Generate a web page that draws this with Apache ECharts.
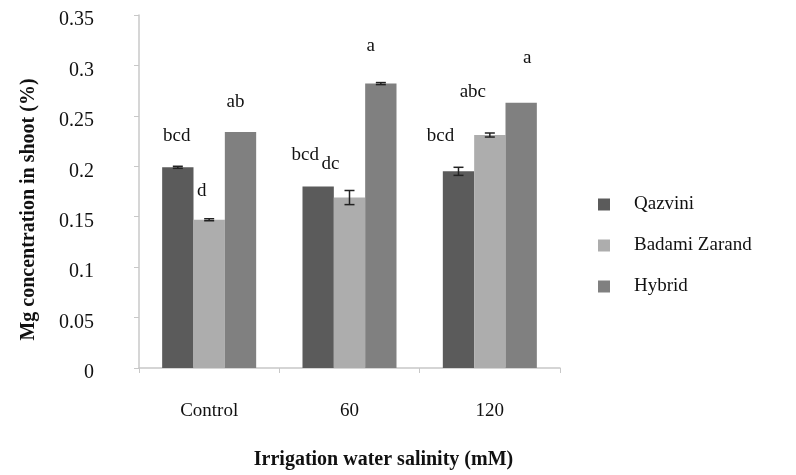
<!DOCTYPE html>
<html>
<head>
<meta charset="utf-8">
<script src="https://cdn.jsdelivr.net/npm/echarts@6/dist/echarts.min.js"></script>
<style>html,body{margin:0;padding:0;background:#fff}#c{width:796px;height:475px}</style>
</head>
<body>
<div id="c"></div>
<script>
const categories = ['Control', '60', '120'];
const seriesNames = ['Qazvini', 'Badami Zarand', 'Hybrid'];
const qazvini = [0.199, 0.180, 0.195];
const badami = [0.147, 0.169, 0.231];
const hybrid = [0.234, 0.282, 0.263];
const qazviniErr = [0.001, 0.000, 0.004];
const badamiErr = [0.001, 0.007, 0.002];
const hybridErr = [0.000, 0.001, 0.000];
const qazviniLetters = ['bcd', 'bcd', 'bcd'];
const badamiLetters = ['d', 'dc', 'abc'];
const hybridLetters = ['ab', 'a', 'a'];
const yTicks = [0, 0.05, 0.1, 0.15, 0.2, 0.25, 0.3, 0.35];

// label placement tweaks (px), separate from data
const letterShift = [
  [[-1, -21], [-13, -21], [-18, -25]],
  [[-7.5, -19], [-19, -24], [-17, -33]],
  [[-5, -20], [-10, -28], [6, -35]]
];
const colors = ['#5b5b5b', '#adadad', '#808080'];
const values = [qazvini, badami, hybrid];
const errs = [qazviniErr, badamiErr, hybridErr];
const letters = [qazviniLetters, badamiLetters, hybridLetters];
const FONT = '"Liberation Serif", "Times New Roman", serif';
const GAP = 0.33;

const chart = echarts.init(document.getElementById('c'));
const series = [];
values.forEach((vals, si) => {
  series.push({
    name: seriesNames[si],
    type: 'bar',
    barGap: '0%',
    barCategoryGap: (GAP * 100) + '%',
    itemStyle: { color: colors[si] },
    data: vals.map((v, i) => ({
      value: v,
      label: {
        show: true, position: 'top', distance: 0,
        formatter: letters[si][i], offset: letterShift[si][i],
        fontFamily: FONT, fontSize: 19, lineHeight: 20, color: '#111'
      }
    })),
    z: 2
  });
});
series.push({
  type: 'custom', z: 5, silent: true,
  data: categories.flatMap((c, i) => [0, 1, 2].map(si => [i, values[si][i], errs[si][i], si])),
  renderItem: function (params, api) {
    const ci = api.value(0), v = api.value(1), e = api.value(2), si = api.value(3);
    if (!e) return null;
    const bandW = api.size([1, 0])[0];
    const bw = bandW * (1 - GAP) / 3;
    const center = api.coord([ci, v]);
    const x = center[0] + (si - 1) * bw;
    const top = api.coord([ci, v + e])[1];
    const bot = api.coord([ci, v - e])[1];
    const cap = 5;
    const st = { stroke: '#222', lineWidth: 1.5 };
    return { type: 'group', children: [
      { type: 'line', shape: { x1: x, y1: top, x2: x, y2: bot }, style: st },
      { type: 'line', shape: { x1: x - cap, y1: top, x2: x + cap, y2: top }, style: st },
      { type: 'line', shape: { x1: x - cap, y1: bot, x2: x + cap, y2: bot }, style: st }
    ] };
  }
});

chart.setOption({
  animation: false,
  backgroundColor: '#fff',
  textStyle: { fontFamily: FONT },
  grid: { left: 139, right: 236, top: 15, bottom: 102, containLabel: false },
  legend: {
    orient: 'vertical', left: 593, top: 190,
    itemWidth: 12, itemHeight: 12, itemGap: 22, icon: 'rect', data: seriesNames,
    textStyle: { fontFamily: FONT, fontSize: 19, color: '#111', padding: [0, 0, 0, 19] }
  },
  xAxis: {
    type: 'category', data: categories,
    axisLine: { lineStyle: { color: '#c8c8c8', width: 1.5 } },
    axisTick: { show: true, length: 5, lineStyle: { color: '#c8c8c8' } },
    axisLabel: { fontFamily: FONT, fontSize: 19, color: '#111', margin: 34 },
    name: 'Irrigation water salinity (mM)', nameLocation: 'middle', nameGap: 82,
    nameTextStyle: { fontFamily: FONT, fontSize: 20, fontWeight: 'bold', color: '#111', padding: [0, 0, 0, 68] }
  },
  yAxis: {
    type: 'value', min: yTicks[0], max: yTicks[yTicks.length - 1], interval: 0.05,
    splitLine: { show: false },
    axisLine: { show: true, lineStyle: { color: '#c8c8c8', width: 1.5 } },
    axisTick: { show: true, length: 5, lineStyle: { color: '#c8c8c8' } },
    axisLabel: {
      fontFamily: FONT, fontSize: 20, color: '#111', margin: 45,
      verticalAlign: 'top', lineHeight: 10,
      formatter: v => String(+v.toFixed(2))
    },
    name: 'Mg concentration in shoot (%)', nameLocation: 'middle', nameGap: 100, nameRotate: 90,
    nameTextStyle: { fontFamily: FONT, fontSize: 20, fontWeight: 'bold', color: '#111', padding: [0, 36, 0, 0] }
  },
  series: series
});
</script>
</body>
</html>
